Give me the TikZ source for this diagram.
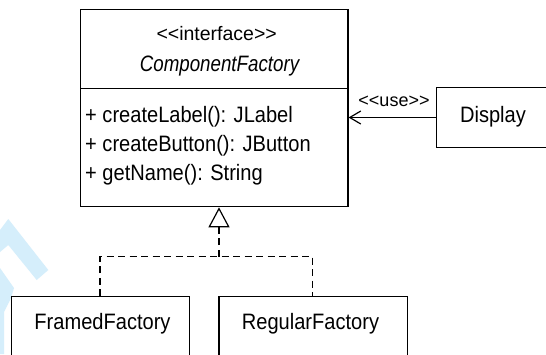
\documentclass[tikz,border=0pt]{standalone}
\usepackage{fontspec}
\setmainfont[FakeStretch=0.9, Ligatures=TeXOff]{Liberation Sans}
\newfontfamily\plainsans[Ligatures=TeXOff]{Liberation Sans}
\newfontfamily\narrowsans[FakeStretch=0.84, Ligatures=TeXOff]{Liberation Sans}
\usetikzlibrary{arrows.meta}
\definecolor{markblue}{RGB}{213,238,251}
\tikzset{
  umlbox/.style={draw, line width=1.2pt, inner sep=0pt, fill=white},
  txt/.style={inner sep=0pt, anchor=base, font=\fontsize{22.3}{25}\selectfont},
  methodtxt/.style={txt, anchor=base west},
  stereo/.style={inner sep=0pt, anchor=base, font=\plainsans\fontsize{18}{20}\selectfont},
  dashline/.style={draw, line width=1.2pt, dash pattern=on 7pt off 4.5pt},
  usearrow/.style={draw, line width=1.2pt, -{Straight Barb[length=11pt,width=13pt,line width=1.2pt]}},
  realizetip/.style={-{Triangle[open,length=20pt,width=21pt,line width=1.2pt,fill=white]}}
}
\begin{document}
\begin{tikzpicture}[x=1pt,y=-1pt]
\useasboundingbox (0,0) rectangle (546,354);
\fill[white] (0,0) rectangle (546,354);

% faint logo strokes in the lower left corner
\fill[markblue] (0,230) -- (8.3,219) -- (48.3,270) -- (36.7,280) -- (8.3,245) -- (0,252) -- cycle;
\fill[markblue] (0,268) -- (14,288) -- (11,298) -- (4,312) -- (4,354) -- (0,354) -- cycle;

% the interface
\node[umlbox, minimum width=267.3pt, minimum height=197.4pt] (cf) at (214.35,108) {};
\draw[line width=1.2pt] (cf.west |- 0,88.3) -- (cf.east |- 0,88.3);
\node[txt, font=\plainsans\fontsize{19.5}{22}\selectfont] (st) at (216.7,40) {\textless\textless interface\textgreater\textgreater};
\node[txt, font=\narrowsans\itshape\fontsize{22.3}{25}\selectfont] (cfname) at (219.5,71) {ComponentFactory};
\node[methodtxt] (m1) at (85,122.7) {+ createLabel(): JLabel};
\node[methodtxt] (m2) at (85,151.7) {+ createButton(): JButton};
\node[methodtxt] (m3) at (85,180.9) {+ getName(): String};

% the client
\node[umlbox, minimum width=112.6pt, minimum height=60.4pt] (disp) at (493,117.5) {};
\node[txt] (dispt) at (493,122.5) {Display};
\draw[usearrow] (disp.west) -- (cf.east |- disp.west);
\node[stereo] (use) at (394,106) {\textless\textless use\textgreater\textgreater};

% the implementations
\node[umlbox, minimum width=177.6pt, minimum height=70pt] (ff) at (100.5,331.7) {};
\node[txt] (fft) at (102.5,329.5) {FramedFactory};
\node[umlbox, minimum width=188.3pt, minimum height=70pt] (rf) at (313.15,331.7) {};
\node[txt] (rft) at (310.5,329.5) {RegularFactory};

\coordinate (jn) at (219,256.7);
\draw[dashline] (ff.north -| 100,0) |- (jn) -| (rf.north -| 312.7,0);
\draw[dashline, realizetip] (jn) -- (cf.south -| jn);
\end{tikzpicture}
\end{document}
